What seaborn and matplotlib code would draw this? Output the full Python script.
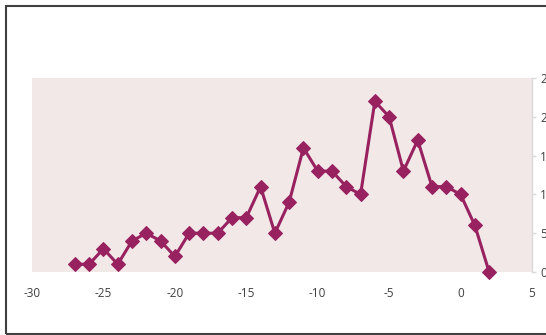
import numpy as np
import pandas as pd
import matplotlib
matplotlib.use('Agg')
import matplotlib.pyplot as plt
import seaborn as sns
from matplotlib.patches import Rectangle

x_values = [-27, -26, -25, -24, -23, -22, -21, -20, -19, -18, -17, -16, -15, -14, -13,
            -12, -11, -10, -9, -8, -7, -6, -5, -4, -3, -2, -1, 0, 1, 2]
y_values = [1, 1, 3, 1, 4, 5, 4, 2, 5, 5, 5, 7, 7, 11, 5,
            9, 16, 13, 13, 11, 10, 22, 20, 13, 17, 11, 11, 10, 6, 0]
x_ticks = [-30, -25, -20, -15, -10, -5, 0, 5]
y_ticks = [0, 5, 10, 15, 20, 25]

df = pd.DataFrame({'x': x_values, 'y': y_values})

sns.set_style('white')
plt.rcParams['font.family'] = ['Open Sans', 'DejaVu Sans']

fig = plt.figure(figsize=(5.46, 3.35), dpi=100)
W, H = 546, 335
ax = fig.add_axes([32 / W, 1 - 272 / H, 500 / W, 194 / H])
ax.set_facecolor('#F2E8E8')

sns.lineplot(data=df, x='x', y='y', ax=ax, color='#98215F', linewidth=2.2,
             marker='D', markersize=7.5, markeredgecolor='#98215F')

ax.set_xlim(-30, 5)
ax.set_ylim(0, 25)
ax.set_xticks(x_ticks)
ax.set_xticklabels([str(v) for v in x_ticks])
ax.set_yticks(y_ticks)
ax.yaxis.tick_right()
ax.set_xlabel('')
ax.set_ylabel('')
for side in ['left', 'top', 'bottom']:
    ax.spines[side].set_visible(False)
ax.spines['right'].set_color('#D9D9D9')
ax.spines['right'].set_linewidth(1)
ax.tick_params(axis='x', length=0, pad=11, labelsize=8.5, labelcolor='#404040')
ax.tick_params(axis='y', length=3, width=1, color='#D9D9D9', direction='out',
               pad=3, labelsize=8.5, labelcolor='#404040', right=True, left=False)
for line in ax.lines:
    line.set_clip_on(False)

fig.patches.append(Rectangle((5.5 / W, 1 - 334 / H), 1.0, 328.5 / H,
                             transform=fig.transFigure, fill=False,
                             edgecolor='#404040', linewidth=1.5))

fig.savefig('out.png', dpi=100)
